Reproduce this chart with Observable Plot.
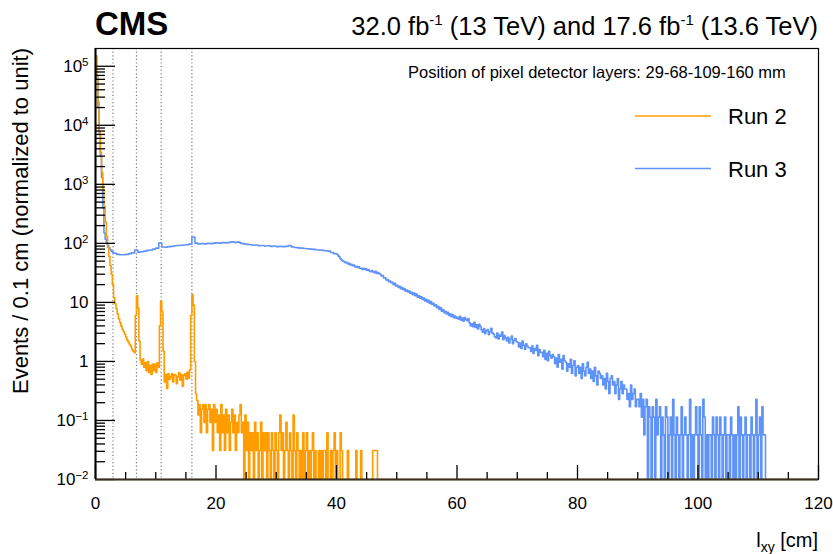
<!DOCTYPE html>
<html>
<head>
<meta charset="utf-8">
<script src="https://cdn.jsdelivr.net/npm/d3@7"></script>
<script src="https://cdn.jsdelivr.net/npm/@observablehq/plot@0.6"></script>
<style>
  html, body { margin: 0; padding: 0; background: #fff; }
  svg { display: block; }
</style>
</head>
<body>
<div id="chart"></div>
<script>
// ---------------- DATA ----------------
const seriesNames = ["Run 2", "Run 3"];
const layerPositionsCm = [2.9, 6.8, 10.9, 16.0];
const xTicks = [0, 20, 40, 60, 80, 100, 120];
const xMinorTicks = [5, 10, 15, 25, 30, 35, 45, 50, 55, 65, 70, 75, 85, 90, 95, 105, 110, 115];
const yTicks = [0.01, 0.1, 1, 10, 100, 1000, 10000, 100000];
const yTickLabels = ["10^−2", "10^−1", "1", "10", "10^2", "10^3", "10^4", "10^5"];

// Run 2: values per 0.2 cm bin from 0.0 to 16.8 cm (events / 0.1 cm, normalized)
const run2Head = [
  140000, 70000, 25000, 8000, 3500, 1600, 800, 420, 230, 130,
  85, 60, 42, 30, 20, 12, 9.5, 7.8, 6.4, 5.3,
  4.6, 4.0, 3.5, 3.2, 2.9, 2.6, 2.3, 2.1, 1.95, 1.8,
  1.6, 1.5, 1.4, 6.0, 13, 8.0, 2.2, 1.05, 0.9, 1.1,
  0.8, 0.95, 0.7, 1.0, 0.65, 0.85, 0.6, 0.9, 0.7, 0.9,
  0.65, 0.95, 0.8, 4.0, 10.5, 7.0, 1.5, 0.45, 0.6, 0.35,
  0.62, 0.5, 0.55, 0.62, 0.45, 0.6, 0.58, 0.42, 0.55, 0.65,
  0.48, 0.6, 0.38, 0.58, 0.62, 0.5, 0.66, 0.52, 0.72, 6.0,
  13.5, 9.0, 1.0, 0.28
];
// Run 2 tail: counts per 0.2 cm bin from 16.8 to 47.0 cm (one count = run2Unit)
const run2Unit = 0.031;
const run2TailCounts = [
  7,4,6,2,5,6,3,6,2,5,6,3,5,1,6,3,
  5,2,4,1,6,2,4,1,5,2,
  4,1,3,5,2,4,1,3,2,4,
  6,2,3,0,4,1,3,0,2,1,
  2,0,3,1,2,0,1,3,0,2,
  1,2,0,2,1,0,2,1,0,2,
  1,0,2,4,1,2,0,1,3,1,
  0,2,1,0,4,1,0,2,1,0,
  1,0,2,0,1,2,0,1,0,1,
  2,0,1,0,0,1,0,1,0,1,
  1,0,2,0,0,1,0,1,2,0,
  1,0,0,2,1,0,0,0,0,1,
  0,0,0,0,0,0,1,0,0,0,
  1,0,0,0,0,0,0,0,0,0,
  1,1,1,1,0
];

// Run 3: values per 0.2 cm bin from 0.0 to 3.0 cm
const run3Head = [150000, 60000, 20000, 7000, 3000, 1300, 400, 150, 118, 102, 92, 84, 78, 74, 71];
// Run 3: values per 0.5 cm bin from 3.0 to 40.0 cm
const run3Mid = [
  68, 65, 64, 64, 65, 67, 69, 77, 71, 72,
  74, 76, 77, 80, 83, 101, 87, 86, 88, 89,
  91, 92, 93, 94, 95, 97, 128, 101, 98, 99,
  98, 100, 99, 101, 102, 101, 103, 102, 104, 106,
  104, 105, 100, 98, 96, 95, 93, 94, 91, 92,
  90, 91, 89, 90, 88, 89, 88, 89, 92, 87,
  85, 84, 83, 82, 81, 80, 79, 78, 77, 76,
  75, 74, 70, 67
];
// Run 3: values per 0.2 cm bin from 40.0 to 60.0 cm
const run3Fall = [
  66, 62, 59, 55, 52, 50, 49, 47, 48, 45,
  46, 43, 44, 42, 43, 40, 41, 39, 40, 38,
  38, 36, 38, 36, 37, 35, 36, 34, 33, 34.5,
  33, 32, 33.5, 31, 32, 31, 30, 28, 28.5, 26,
  26, 24, 24.5, 22.5, 23, 21.5, 22, 20, 21, 19,
  19.5, 18, 18.8, 17, 17.8, 16.4, 17.2, 15.5, 16.2, 15,
  15.6, 14.2, 14.8, 13.5, 14.4, 13, 13.8, 12.2, 12.9, 11.8,
  12.4, 11.2, 11.9, 10.6, 11.3, 10.2, 10.9, 9.6, 10.3, 9.2,
  9.7, 8.7, 9.1, 8.1, 8.6, 7.6, 8.2, 7.1, 7.6, 6.7,
  7.1, 6.4, 6.8, 6.0, 6.4, 5.7, 6.2, 5.5, 5.9, 5.4
];
// Run 3 tail: counts per 0.2 cm bin from 60.0 to 111.2 cm (one count = run3Unit)
const run3Unit = 0.057;
const run3TailCounts = [
  98,91,102,88,95,84,97,90,86,93,
  79,70,76,68,81,66,73,62,75,69,
  60,55,63,52,58,61,50,56,64,53,
  51,46,44,53,42,49,47,55,41,48,
  44,39,45,36,42,47,35,40,43,38,
  37,31,36,29,39,33,28,35,32,30,
  30,26,32,24,29,27,33,22,28,25,
  25,21,27,19,24,18,26,22,20,23,
  21,16,20,14,23,17,19,13,22,18,
  17,12,16,14,19,11,15,18,10,14,
  15,11,14,9,16,12,10,14,17,11,
  13,9,12,8,14,10,7,12,11,9,
  10,7,9,6,11,8,5,9,10,7,
  8,5,7,9,4,6,8,5,7,6,
  6,4,5,3,7,4,5,6,3,4,
  4,3,5,2,4,1,3,4,0,3,
  2,0,3,2,0,4,1,2,3,0,
  2,1,0,3,2,0,1,2,0,4,
  1,0,2,1,0,1,3,0,1,2,
  1,0,1,4,0,1,0,1,3,1,
  0,3,1,0,4,2,0,1,0,1,
  1,0,2,1,0,2,1,0,2,1,
  0,1,2,0,1,1,0,2,1,0,
  1,0,1,3,0,2,1,0,1,2,
  0,1,1,0,2,1,0,1,4,0,
  1,2,0,3,1,1
];

// ---------------- SETUP ----------------
const FONT = "'Liberation Sans', Arial, Helvetica, sans-serif";
const ORANGE = "#ff9c00";
const BLUE = "#5f93fa";
const X_MAX = 120, Y_MIN = 0.01, Y_MAX = 2e5;
const W = 833, H = 554, ML = 95, MR = 15, MT = 48, MB = 75;
const FW = W - ML - MR, FH = H - MT - MB;

function histPoints(series, segments) {
  const pts = [];
  let end = 0;
  for (const s of segments) {
    s.values.forEach((v, i) => pts.push({series, x: s.start + i * s.step, y: v * s.unit}));
    end = s.start + s.values.length * s.step;
  }
  pts.push({series, x: end, y: 0});
  pts.push({series, x: X_MAX, y: 0});
  return pts;
}
const run2Points = histPoints(seriesNames[0], [
  {start: 0, step: 0.2, values: run2Head, unit: 1},
  {start: 16.8, step: 0.2, values: run2TailCounts, unit: run2Unit}
]);
const run3Points = histPoints(seriesNames[1], [
  {start: 0, step: 0.2, values: run3Head, unit: 1},
  {start: 3.0, step: 0.5, values: run3Mid, unit: 1},
  {start: 40.0, step: 0.2, values: run3Fall, unit: 1},
  {start: 60.0, step: 0.2, values: run3TailCounts, unit: run3Unit}
]);

const yMinor = [];
for (let e = -2; e <= 5; e++) for (let k = 2; k <= 9; k++) {
  const v = k * Math.pow(10, e);
  if (v < Y_MAX) yMinor.push(v);
}
const yLab = new Map(yTicks.map((t, i) => [t, yTickLabels[i]]));

const svg = Plot.plot({
  width: W, height: H,
  marginLeft: ML, marginRight: MR, marginTop: MT, marginBottom: MB,
  x: {domain: [0, X_MAX]},
  y: {type: "log", domain: [Y_MIN, Y_MAX]},
  style: {fontFamily: FONT, fontSize: "17px", color: "black", background: "white"},
  marks: [
    Plot.ruleX(layerPositionsCm, {stroke: "#777", strokeDasharray: "1.2,2.4", strokeWidth: 1.2}),
    Plot.line(run3Points, {x: "x", y: d => Math.max(d.y, Y_MIN), curve: "step-after", stroke: BLUE, strokeWidth: 1.6, clip: true}),
    Plot.line(run2Points, {x: "x", y: d => Math.max(d.y, Y_MIN), curve: "step-after", stroke: ORANGE, strokeWidth: 1.6, clip: true}),
    Plot.tickY(yTicks, {y: d => d, insetRight: FW - 20, stroke: "black", strokeWidth: 1.3}),
    Plot.tickY(yMinor, {y: d => d, insetRight: FW - 10, stroke: "black", strokeWidth: 1.3}),
    Plot.tickX(xTicks, {x: d => d, insetTop: FH - 14, stroke: "black", strokeWidth: 1.3}),
    Plot.tickX(xMinorTicks, {x: d => d, insetTop: FH - 7, stroke: "black", strokeWidth: 1.3}),
    Plot.frame({stroke: "black", strokeWidth: 1.2}),
    Plot.ruleX([0], {stroke: "black", strokeWidth: 2}),
    Plot.ruleY([Y_MIN], {stroke: "#3a3020", strokeWidth: 2}),
    Plot.axisX({ticks: xTicks, tickSize: 0, tickPadding: 17, label: null, tickFormat: d => String(d)}),
    Plot.axisY({ticks: yTicks, tickSize: 0, tickPadding: 7, label: null, tickFormat: d => yLab.get(d)})
  ]
});

// superscripts in y tick labels
d3.select(svg).selectAll('g[aria-label="y-axis tick label"] text').each(function () {
  const t = this.textContent;
  const m = t.match(/^(\d+)\^(.+)$/);
  if (m) {
    const s = d3.select(this);
    s.text(m[1]);
    s.append("tspan").attr("dy", "-0.5em").attr("font-size", "11.5px").text(m[2]);
  }
});

// annotations
const g = d3.select(svg).append("g").attr("font-family", FONT).attr("fill", "black").attr("text-anchor", "start");
g.append("text").attr("x", 95).attr("y", 35).attr("font-size", 33).attr("font-weight", "bold").text("CMS");

const lumi = g.append("text").attr("x", 818).attr("y", 35).attr("text-anchor", "end").attr("font-size", 25.5);
lumi.append("tspan").text("32.0 fb");
lumi.append("tspan").attr("dy", -10).attr("font-size", 15).text("-1");
lumi.append("tspan").attr("dy", 10).text(" (13 TeV) and 17.6 fb");
lumi.append("tspan").attr("dy", -10).attr("font-size", 15).text("-1");
lumi.append("tspan").attr("dy", 10).text(" (13.6 TeV)");

g.append("text").attr("x", 408).attr("y", 78).attr("font-size", 16.5)
  .text("Position of pixel detector layers: 29-68-109-160 mm");

g.append("text").attr("transform", "translate(28,48) rotate(-90)").attr("text-anchor", "end")
  .attr("font-size", 22).text("Events / 0.1 cm (normalized to unit)");

const xt = g.append("text").attr("x", 818).attr("y", 547).attr("text-anchor", "end").attr("font-size", 20);
xt.append("tspan").text("l");
xt.append("tspan").attr("dy", 5).attr("font-size", 14).text("xy");
xt.append("tspan").attr("dy", -5).text(" [cm]");

// legend
const legendColors = [ORANGE, BLUE];
const legendY = [116, 168.5];
seriesNames.forEach((name, i) => {
  g.append("line").attr("x1", 635).attr("x2", 711).attr("y1", legendY[i]).attr("y2", legendY[i])
    .attr("stroke", legendColors[i]).attr("stroke-width", 1.4);
  g.append("text").attr("x", 728).attr("y", legendY[i] + 8).attr("font-size", 22).text(name);
});

document.getElementById("chart").appendChild(svg);
</script>
</body>
</html>
